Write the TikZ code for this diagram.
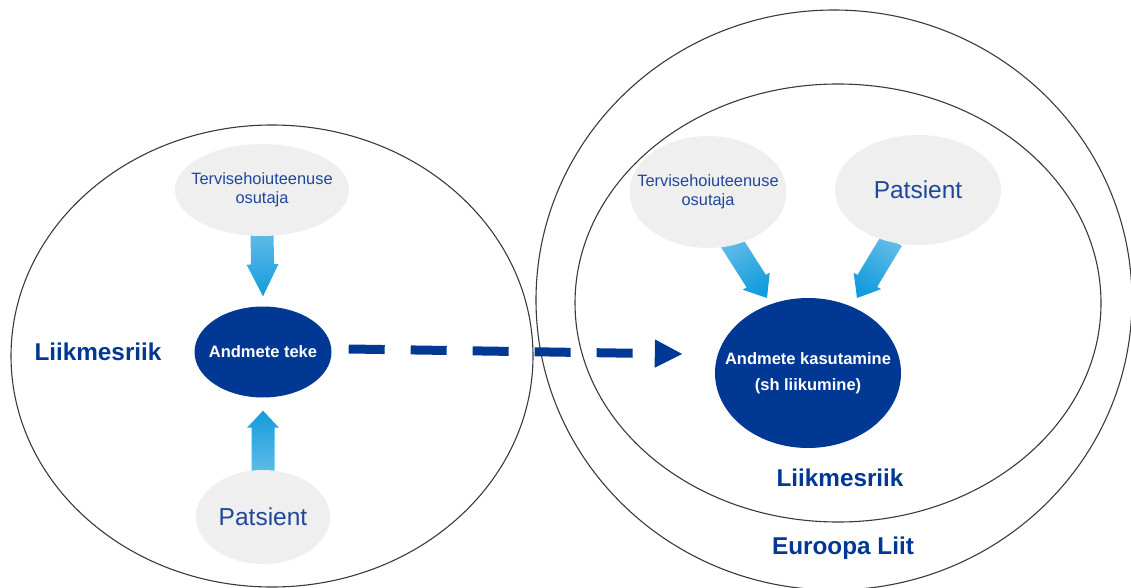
\documentclass[tikz,border=0pt]{standalone}
\usepackage{fontspec}
\setmainfont{Liberation Sans}
\usetikzlibrary{shapes.geometric,calc,arrows.meta,backgrounds}
\definecolor{hubblue}{HTML}{003893}
\definecolor{inkblue}{HTML}{1E4898}
\definecolor{cloud}{HTML}{EFEFEF}
\definecolor{ringgray}{HTML}{3A3A3A}
\definecolor{flowlight}{HTML}{62BCE8}
\definecolor{flowdark}{HTML}{139CDD}

% Block arrow from #1 (tail) to #2 (tip); #3 head length; #4 shading options
\newcommand\flowarrow[4]{%
  \coordinate (fa-neck) at ($(#2)!#3!(#1)$);
  \shade[#4]
    ($(#1)!11.5pt!90:(#2)$) -- ($(fa-neck)!11.5pt!-90:(#1)$) --
    ($(fa-neck)!16pt!-90:(#1)$) -- (#2) --
    ($(fa-neck)!16pt!90:(#1)$) -- ($(fa-neck)!11.5pt!90:(#1)$) --
    ($(#1)!11.5pt!-90:(#2)$) -- cycle;
}

\begin{document}
\begin{tikzpicture}[x=1pt,y=-1pt,
  ring/.style={ellipse, draw=ringgray, line width=1.1pt, inner sep=0pt},
  source/.style={ellipse, fill=cloud, inner sep=0pt},
  hub/.style={ellipse, fill=hubblue, inner sep=0pt},
  hubtext/.style={text=white, align=center, inner sep=0pt,
    font=\bfseries\fontsize{16.5}{26}\selectfont},
  smalltext/.style={text=inkblue, align=center, inner sep=0pt,
    font=\fontsize{16.4}{19}\selectfont},
  bigtext/.style={text=inkblue, inner sep=0pt, font=\fontsize{24.5}{28}\selectfont},
  region/.style={text=hubblue, font=\bfseries\fontsize{24.3}{28}\selectfont},
  link/.style={draw=hubblue, line width=9pt, dash pattern=on 36pt off 26pt,
    -{Triangle[length=28pt,width=26pt]}}
]
\useasboundingbox (0,0) rectangle (1131,588);

% rings: member state on the left, EU with member state on the right
\node[ring, minimum width=522, minimum height=462] (homering) at (272,356) {};
\node[ring, minimum width=596, minimum height=580] (euring) at (834,300) {};
\node[ring, minimum width=526, minimum height=438] (statering) at (838,303) {};

% left member state
\node[source, minimum width=174, minimum height=92,
  label={[smalltext]center:{Tervisehoiuteenuse\\osutaja}}] (provA) at (262,190) {};
\node[hub, minimum width=137, minimum height=91,
  label={[hubtext]center:Andmete teke}] (makeA) at (263,352) {};
\node[source, minimum width=134, minimum height=94,
  label={[bigtext]center:Patsient}] (patA) at (263,517) {};
\node[region] (stateA) at (98,352) {Liikmesriik};

% right member state inside the EU
\node[source, minimum width=157, minimum height=112,
  label={[smalltext]center:{Tervisehoiuteenuse\\osutaja}}] (provB) at (708,192) {};
\node[source, minimum width=166, minimum height=110,
  label={[bigtext]center:Patsient}] (patB) at (918,190) {};
\node[hub, minimum width=186, minimum height=150,
  label={[hubtext]center:{Andmete kasutamine\\(sh liikumine)}}] (useB) at (808,373) {};
\node[region] (stateB) at (840,478) {Liikmesriik};
\node[region] (union) at (843,548) {Euroopa Liit};

\begin{pgfonlayer}{background}
  \coordinate (tA1) at ($(provA.south)+(0,-5)$);
  \coordinate (pA1) at ($(makeA.north)+(0,-10)$);
  \flowarrow{tA1}{pA1}{32pt}{top color=flowlight, bottom color=flowdark}
  \coordinate (tA2) at ($(patA.north)+(0,5)$);
  \coordinate (pA2) at ($(makeA.south)+(0,13)$);
  \flowarrow{tA2}{pA2}{17pt}{top color=flowdark, bottom color=flowlight}
  \coordinate (tB1) at ($(provB.center)+(22,48)$);
  \coordinate (pB1) at ($(useB.center)+(-41,-75)$);
  \flowarrow{tB1}{pB1}{20pt}{top color=flowlight, bottom color=flowdark, shading angle=32}
  \coordinate (tB2) at ($(patB.center)+(-26,50)$);
  \coordinate (pB2) at ($(useB.center)+(49,-75)$);
  \flowarrow{tB2}{pB2}{20pt}{top color=flowlight, bottom color=flowdark, shading angle=-31}
\end{pgfonlayer}

% data moving to the other member state
\coordinate (dashStart) at ($(makeA.east)+(17,-3)$);
\coordinate (dashEnd) at ($(useB.west)+(-32,-19)$);
\draw[link] (dashStart) -- (dashEnd);
\end{tikzpicture}
\end{document}
